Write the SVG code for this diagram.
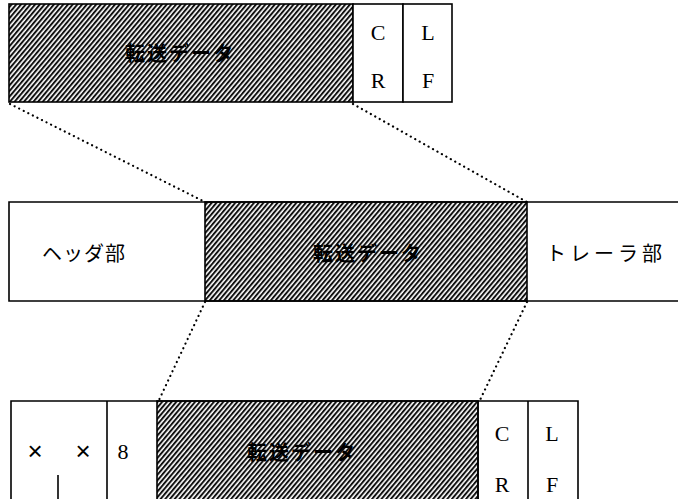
<svg xmlns="http://www.w3.org/2000/svg" width="678" height="499" viewBox="0 0 678 499">
<defs>
<pattern id="hatch" width="3.6" height="10" patternUnits="userSpaceOnUse" patternTransform="rotate(40)">
<rect x="0" y="0" width="2" height="10" fill="#111"/>
</pattern>
<style>
.box{fill:#fff;stroke:#000;stroke-width:1.6}
.hat{fill:url(#hatch);stroke:#000;stroke-width:1.6}
.ln{fill:none;stroke:#000;stroke-width:1.6}
.dot{fill:none;stroke:#000;stroke-width:2.2;stroke-dasharray:0.1 5;stroke-linecap:round}
.jp{font-family:"Noto Sans CJK JP","Noto Sans",sans-serif;font-size:20px;fill:#000;text-anchor:middle;dominant-baseline:central}
.jh{font-family:"Noto Sans CJK JP","Noto Sans",sans-serif;font-size:20px;fill:#000;font-weight:bold;text-anchor:middle;dominant-baseline:central}
.sr{font-family:"Liberation Serif",serif;font-size:22px;fill:#000;text-anchor:middle;dominant-baseline:central}
.ss{font-family:"Liberation Sans",sans-serif;font-size:26px;fill:#000;text-anchor:middle;dominant-baseline:central}
</style>
</defs>
<g id="connectors">
<line class="dot" x1="10" y1="104" x2="205" y2="202"/>
<line class="dot" x1="353" y1="104" x2="527" y2="202"/>
<line class="dot" x1="205" y1="302" x2="159" y2="400"/>
<line class="dot" x1="527" y1="302" x2="480" y2="400"/>
</g>
<g id="top-frame">
<rect class="hat" x="9" y="4" width="344" height="98"/>
<text class="jh" x="180" y="52" letter-spacing="2">転送データ</text>
<rect class="box" x="353" y="4" width="50" height="98"/>
<text class="sr" x="378" y="32">C</text>
<text class="sr" x="378" y="80">R</text>
<rect class="box" x="403" y="4" width="49" height="98"/>
<text class="sr" x="428" y="32">L</text>
<text class="sr" x="428" y="80">F</text>
</g>
<g id="middle-frame">
<path class="ln" d="M678 202 H9 V301 H678"/>
<rect class="hat" x="205" y="202" width="322" height="99"/>
<text class="jp" x="84" y="252" letter-spacing="1">ヘッダ部</text>
<text class="jh" x="368" y="252" letter-spacing="2">転送データ</text>
<text class="jp" x="606" y="252" letter-spacing="4">トレーラ部</text>
</g>
<g id="bottom-frame">
<path class="ln" d="M11 499 V401 H578 V499"/>
<line class="ln" x1="107" y1="401" x2="107" y2="499"/>
<line class="ln" x1="58" y1="475" x2="58" y2="499"/>
<rect class="hat" x="157" y="401" width="321" height="100"/>
<line class="ln" x1="478" y1="401" x2="478" y2="499"/>
<line class="ln" x1="528" y1="401" x2="528" y2="499"/>
<text class="ss" x="35" y="451">×</text>
<text class="ss" x="83" y="451">×</text>
<text class="sr" x="123" y="451">8</text>
<text class="jh" x="302" y="451" letter-spacing="2">転送データ</text>
<text class="sr" x="502" y="433">C</text>
<text class="sr" x="502" y="484">R</text>
<text class="sr" x="552" y="433">L</text>
<text class="sr" x="552" y="484">F</text>
</g>
</svg>
